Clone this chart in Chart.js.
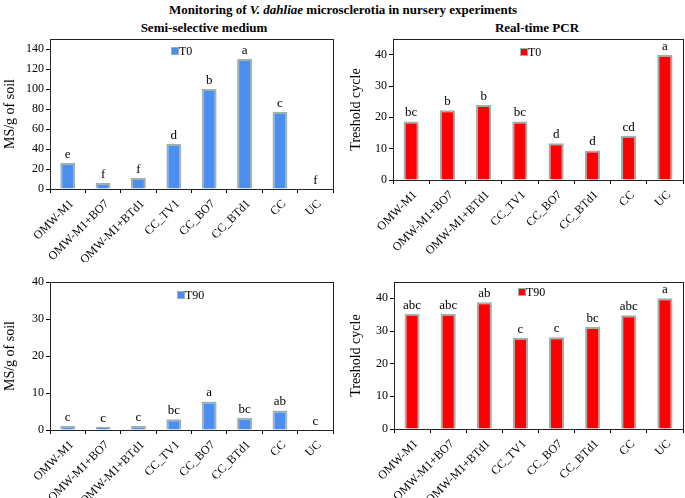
<!DOCTYPE html>
<html><head><meta charset="utf-8">
<script src="https://cdn.jsdelivr.net/npm/chart.js@4.4.1/dist/chart.umd.min.js"></script>
<style>
html,body{margin:0;padding:0;background:#fff;}
#wrap{position:relative;width:685px;height:498px;overflow:hidden;font-family:"Liberation Serif","Times New Roman",serif;}
.t{position:absolute;font-weight:bold;font-size:13px;white-space:nowrap;transform:translateX(-50%);color:#000;}
canvas{position:absolute;}
</style></head><body>
<div id="wrap">
<div class="t" style="left:343px;top:2px;">Monitoring of <i>V. dahliae</i> microsclerotia in nursery experiments</div>
<div class="t" style="left:204px;top:20px;">Semi-selective medium</div>
<div class="t" style="left:537px;top:20px;">Real-time PCR</div>
<canvas id="c1" style="left:0;top:0;width:342px;height:262px" width="342" height="262"></canvas>
<canvas id="c2" style="left:342px;top:0;width:343px;height:262px" width="343" height="262"></canvas>
<canvas id="c3" style="left:0;top:250px;width:342px;height:248px" width="342" height="248"></canvas>
<canvas id="c4" style="left:342px;top:250px;width:343px;height:248px" width="343" height="248"></canvas>
</div>
<script>
const categories = ["OMW-M1","OMW-M1+BO7","OMW-M1+BTd1","CC_TV1","CC_BO7","CC_BTd1","CC","UC"];
const msT0 = [26, 6, 11, 45, 100, 130, 77, 0];
const msT0Letters = ["e","f","f","d","b","a","c","f"];
const pcrT0 = [18.7, 22.3, 23.9, 18.7, 11.7, 9.4, 14.1, 40];
const pcrT0Letters = ["bc","b","b","bc","d","d","cd","a"];
const msT90 = [1.1, 0.9, 1.1, 2.9, 7.7, 3.3, 5.3, 0];
const msT90Letters = ["c","c","c","bc","a","bc","ab","c"];
const pcrT90 = [35.3, 35.3, 38.8, 27.9, 28.1, 31.2, 34.8, 40];
const pcrT90Letters = ["abc","abc","ab","c","c","bc","abc","a"];

Chart.defaults.font.family = "'Liberation Serif','Times New Roman',serif";
Chart.defaults.font.size = 12;
Chart.defaults.color = "#000";

const letterPlugin = {
  id: 'letters',
  afterDatasetsDraw(chart, args, opts) {
    const ctx = chart.ctx;
    const meta = chart.getDatasetMeta(0);
    ctx.save();
    ctx.font = "13px 'Liberation Serif', serif";
    ctx.fillStyle = '#000';
    ctx.textAlign = 'center';
    ctx.textBaseline = 'bottom';
    meta.data.forEach((bar, i) => {
      ctx.fillText(opts.labels[i], bar.x, bar.y - 2);
    });
    ctx.restore();
  }
};
const framePlugin = {
  id: 'frame',
  afterDraw(chart) {
    const a = chart.chartArea, ctx = chart.ctx;
    ctx.save();
    ctx.strokeStyle = '#222';
    ctx.lineWidth = 1;
    ctx.strokeRect(Math.round(a.left) + 0.5, Math.round(a.top) + 0.5, Math.round(a.right - a.left), Math.round(a.bottom - a.top));
    ctx.restore();
  }
};
const boxLegendPlugin = {
  id: 'boxLegend',
  afterDraw(chart, args, opts) {
    const a = chart.chartArea, ctx = chart.ctx;
    const ds = chart.data.datasets[0];
    const x = a.left + opts.dx, y = a.top + opts.dy;
    ctx.save();
    ctx.fillStyle = ds.backgroundColor;
    ctx.fillRect(x, y - 3, 6, 6);
    ctx.strokeStyle = ds.borderColor;
    ctx.lineWidth = 1;
    ctx.strokeRect(x - 0.5, y - 3.5, 7, 7);
    ctx.fillStyle = '#000';
    ctx.font = "12px 'Liberation Serif', serif";
    ctx.textAlign = 'left';
    ctx.textBaseline = 'middle';
    ctx.fillText(ds.label, x + 7, y + 0.5);
    ctx.restore();
  }
};

function makeChart(id, label, data, letters, color, yTitle, yMax, yStep, pad, yWidth, xHeight, legPos) {
  new Chart(document.getElementById(id), {
    type: 'bar',
    data: {
      labels: categories,
      datasets: [{
        label: label,
        data: data,
        backgroundColor: color,
        borderColor: '#9fb0b0',
        borderWidth: 2,
        categoryPercentage: 1,
        barPercentage: 0.42
      }]
    },
    options: {
      responsive: false,
      animation: false,
      layout: { padding: pad },
      plugins: {
        legend: { display: false },
        tooltip: { enabled: false },
        letters: { labels: letters },
        boxLegend: legPos
      },
      scales: {
        x: {
          grid: { drawOnChartArea: false, drawTicks: true, tickLength: 4, color: '#000', offset: true },
          border: { color: '#000' },
          ticks: { minRotation: 45, maxRotation: 45, padding: 4, labelOffset: 4, font: { size: 12 }, autoSkip: false },
          afterFit: (s) => { s.height = xHeight; }
        },
        y: {
          min: 0, max: yMax,
          grid: { drawOnChartArea: false, drawTicks: true, tickLength: 4, color: '#000' },
          border: { color: '#000' },
          ticks: { stepSize: yStep, includeBounds: false, padding: 2, font: { size: 12 } },
          title: { display: true, text: yTitle, font: { size: 14 }, padding: { top: 2, bottom: 2 } },
          afterFit: (s) => { s.width = yWidth; }
        }
      }
    },
    plugins: [letterPlugin, framePlugin, boxLegendPlugin]
  });
}

makeChart('c1', 'T0', msT0, msT0Letters, '#4a8ff0', 'MS/g of soil', 150, 20, {top: 39, right: 9, left: 0, bottom: 0}, 50, 73, {dx: 122, dy: 12});
makeChart('c2', 'T0', pcrT0, pcrT0Letters, '#ff0000', 'Treshold cycle', 45, 10, {top: 39, right: 2, left: 4, bottom: 0}, 47, 82, {dx: 128, dy: 13});
makeChart('c3', 'T90', msT90, msT90Letters, '#4a8ff0', 'MS/g of soil', 40, 10, {top: 32, right: 9, left: 0, bottom: 0}, 50, 68, {dx: 128, dy: 13});
makeChart('c4', 'T90', pcrT90, pcrT90Letters, '#ff0000', 'Treshold cycle', 45, 10, {top: 32, right: 2, left: 4, bottom: 0}, 48, 69, {dx: 125, dy: 10});
</script>
</body></html>
